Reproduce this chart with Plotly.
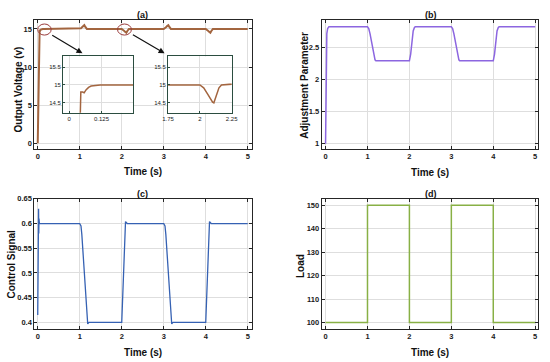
import plotly.graph_objects as go

# ---------------- data ----------------
t_voltage = [0, 0.01, 0.02, 0.03, 0.043, 0.045, 0.052, 0.058, 0.065, 0.075, 0.085, 0.1, 0.12, 0.15, 0.2,
             1.0, 1.03, 1.06, 1.08, 1.1, 1.11, 1.13, 1.15, 1.17,
             2.0, 2.03, 2.06, 2.08, 2.1, 2.11, 2.13, 2.15, 2.17,
             3.0, 3.03, 3.06, 3.08, 3.1, 3.11, 3.13, 3.15, 3.17,
             4.0, 4.03, 4.06, 4.08, 4.1, 4.11, 4.13, 4.15, 4.17, 5.0]
v_out = [0, 4, 9.5, 12.8, 14.2, 14.8, 14.8, 14.78, 14.86, 14.93, 14.97, 14.99, 15.0, 15.0, 15.0,
         15.0, 15.08, 15.25, 15.38, 15.48, 15.5, 15.3, 15.08, 15.0,
         15.0, 14.92, 14.75, 14.62, 14.52, 14.5, 14.7, 14.92, 15.0,
         15.0, 15.08, 15.25, 15.38, 15.48, 15.5, 15.3, 15.08, 15.0,
         15.0, 14.92, 14.75, 14.62, 14.52, 14.5, 14.7, 14.92, 15.0, 15.0]

t_adj = [0, 0.01, 0.02, 0.03, 0.05, 0.08,
         1.0, 1.03, 1.06, 1.1, 1.15, 1.18, 1.2,
         2.0, 2.03, 2.06, 2.09, 2.12, 2.14,
         3.0, 3.03, 3.06, 3.1, 3.15, 3.18, 3.2,
         4.0, 4.03, 4.06, 4.09, 4.12, 4.14, 5.0]
adj = [1.0, 1.9, 2.5, 2.72, 2.8, 2.825,
       2.825, 2.8, 2.72, 2.56, 2.38, 2.31, 2.295,
       2.295, 2.4, 2.6, 2.76, 2.815, 2.825,
       2.825, 2.8, 2.72, 2.56, 2.38, 2.31, 2.295,
       2.295, 2.4, 2.6, 2.76, 2.815, 2.825, 2.825]

t_ctrl = [0, 0.005, 0.01, 0.015, 0.02, 0.025, 0.03, 0.035, 0.04, 0.05,
          1.0, 1.03, 1.05, 1.19, 1.22,
          2.0, 2.09, 2.13,
          3.0, 3.03, 3.05, 3.19, 3.22,
          4.0, 4.09, 4.13, 5.0]
ctrl = [0.415, 0.56, 0.52, 0.6, 0.63, 0.58, 0.61, 0.595, 0.6, 0.6,
        0.6, 0.595, 0.578, 0.397, 0.4,
        0.4, 0.604, 0.6,
        0.6, 0.595, 0.578, 0.397, 0.4,
        0.4, 0.604, 0.6, 0.6]

t_load = [0, 1, 1, 2, 2, 3, 3, 4, 4, 5]
load = [100, 100, 150, 150, 100, 100, 150, 150, 100, 100]

inset1_ticks = [0, 0.125, 0.25]
inset2_ticks = [1.75, 2, 2.25]
inset_yticks = [14.5, 15, 15.5]

# ---------------- layout helpers ----------------
W, H = 550, 362
def px(x):
    return x / W
def py(y):
    return 1 - y / H

FONT = "Liberation Sans, Arial, sans-serif"
FRAME = "#262626"
GRID = "#dedede"

def main_axis(dom, rng, anchor, dtick=None):
    return dict(domain=dom, range=rng, anchor=anchor, showline=True, mirror="ticks",
                linecolor=FRAME, linewidth=1, ticks="inside", ticklen=3, tickcolor=FRAME,
                showgrid=True, gridcolor=GRID, gridwidth=1, zeroline=False,
                dtick=dtick, tick0=0,
                tickfont=dict(family=FONT, size=7.5, color="#1a1a1a", weight="bold"))

def inset_axis(dom, rng, anchor, tickvals):
    return dict(domain=dom, range=rng, anchor=anchor, showline=True, mirror=True,
                linecolor="#2b4d40", linewidth=1, ticks="inside", ticklen=2, tickcolor="#2b4d40",
                showgrid=True, gridcolor=GRID, zeroline=False, tickmode="array", tickvals=tickvals,
                tickfont=dict(family=FONT, size=6, color="#222"))

fig = go.Figure()

c_v = "#a3653f"
c_adj = "#8c66e0"
c_ctrl = "#3561b3"
c_load = "#88b045"

fig.add_trace(go.Scatter(x=t_voltage, y=v_out, mode="lines", line=dict(color=c_v, width=2),
                         xaxis="x", yaxis="y", showlegend=False))
fig.add_trace(go.Scatter(x=t_adj, y=adj, mode="lines", line=dict(color=c_adj, width=1.5),
                         xaxis="x2", yaxis="y2", showlegend=False))
fig.add_trace(go.Scatter(x=t_ctrl, y=ctrl, mode="lines", line=dict(color=c_ctrl, width=1.3),
                         xaxis="x3", yaxis="y3", showlegend=False))
fig.add_trace(go.Scatter(x=t_load, y=load, mode="lines", line=dict(color=c_load, width=1.5),
                         xaxis="x4", yaxis="y4", showlegend=False))
fig.add_trace(go.Scatter(x=t_voltage, y=v_out, mode="lines", line=dict(color=c_v, width=1.5),
                         xaxis="x5", yaxis="y5", showlegend=False))
fig.add_trace(go.Scatter(x=t_voltage, y=v_out, mode="lines", line=dict(color=c_v, width=1.5),
                         xaxis="x6", yaxis="y6", showlegend=False))

# domains
ax_a = [px(29), px(251)]
ax_b = [px(322.7), px(544)]
ay_top = [py(147), py(16)]
ay_bot = [py(328.5), py(197)]

fig.update_layout(
    width=W, height=H, margin=dict(l=0, r=0, t=0, b=0),
    paper_bgcolor="white", plot_bgcolor="#ffffff",
    xaxis=main_axis(ax_a, [-0.08, 5.09], "y", dtick=1),
    yaxis=main_axis(ay_top, [-0.8, 16.2], "x", dtick=5),
    xaxis2=main_axis(ax_b, [-0.093, 5.07], "y2", dtick=1),
    yaxis2=main_axis(ay_top, [0.912, 2.935], "x2", dtick=0.5),
    xaxis3=main_axis(ax_a, [-0.08, 5.09], "y3", dtick=1),
    yaxis3=main_axis(ay_bot, [0.387, 0.65], "x3", dtick=0.05),
    xaxis4=main_axis(ax_b, [-0.093, 5.07], "y4", dtick=1),
    yaxis4=main_axis(ay_bot, [97.3, 152.7], "x4", dtick=10),
    xaxis5=inset_axis([px(58.3), px(130)], [-0.024, 0.248], "y5", inset1_ticks),
    yaxis5=inset_axis([py(110), py(53)], [14.22, 15.8], "x5", inset_yticks),
    xaxis6=inset_axis([px(165.7), px(230.7)], [1.75, 2.25], "y6", inset2_ticks),
    yaxis6=inset_axis([py(110), py(53)], [14.22, 15.8], "x6", inset_yticks),
)

# ellipses around zoomed regions
ell_col = "#9a3b3b"
fig.add_shape(type="circle", xref="x", yref="y", x0=0.0, x1=0.32, y0=14.2, y1=15.65,
              line=dict(color=ell_col, width=1))
fig.add_shape(type="circle", xref="x", yref="y", x0=1.9, x1=2.23, y0=14.2, y1=15.65,
              line=dict(color=ell_col, width=1))

# arrows
for tail, tip in [((0.31, 14.3), (1.065, 11.8)), ((2.23, 14.35), (3.02, 11.8))]:
    fig.add_annotation(x=tip[0], y=tip[1], ax=tail[0], ay=tail[1], xref="x", yref="y",
                       axref="x", ayref="y", text="", showarrow=True, arrowhead=2,
                       arrowsize=1, arrowwidth=1.2, arrowcolor="#111")

# panel titles
titles = [("(a)", 140, 11), ("(b)", 434, 11), ("(c)", 140, 192.5), ("(d)", 434, 192.5)]
for txt, x, y in titles:
    fig.add_annotation(text=txt, x=px(x), y=py(y), xref="paper", yref="paper",
                       showarrow=False, xanchor="center", yanchor="middle",
                       font=dict(family=FONT, size=9, color="#111", weight=600))

# x-axis titles
for x, y in [(140, 169.5), (433.5, 170), (140, 352.5), (433.5, 352)]:
    fig.add_annotation(text="Time (s)", x=px(x), y=py(y), xref="paper", yref="paper",
                       showarrow=False, xanchor="center", yanchor="middle",
                       font=dict(family=FONT, size=10, color="#111", weight="bold"))

# y-axis titles
ytitles = [("Output Voltage (v)", 12.7, 86), ("Adjustment Parameter", 304.3, 82),
           ("Control Signal", 5.5, 263), ("Load", 300.5, 265)]
for txt, x, y in ytitles:
    fig.add_annotation(text=txt, x=px(x), y=py(y), xref="paper", yref="paper",
                       showarrow=False, xanchor="center", yanchor="middle", textangle=-90,
                       font=dict(family=FONT, size=10, color="#111", weight="bold"))

fig.write_html("out.html", config={"displayModeBar": False},
               post_script="document.body.style.margin='0px';")
